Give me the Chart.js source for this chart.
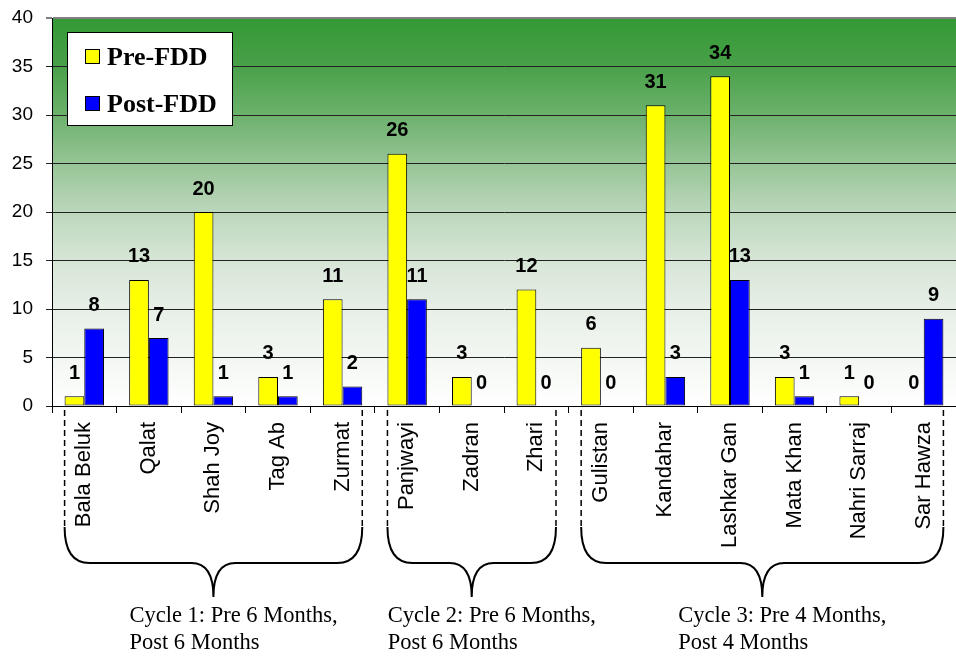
<!DOCTYPE html>
<html lang="en">
<head>
    <meta charset="UTF-8">
    <title>Pre-FDD vs Post-FDD</title>
    <script src="https://cdn.jsdelivr.net/npm/chart.js"></script>
    <style>
        html, body { margin: 0; padding: 0; background: #fff; }
        #wrap { width: 956px; height: 660px; position: relative; }
    </style>
</head>
<body>
    <div id="wrap"><canvas id="fddChart" width="956" height="660"></canvas></div>
    <script>
        // districts, in chart order
        const districts = ['Bala Beluk', 'Qalat', 'Shah Joy', 'Tag Ab', 'Zurmat',
            'Panjwayi', 'Zadran', 'Zhari',
            'Gulistan', 'Kandahar', 'Lashkar Gan', 'Mata Khan', 'Nahri Sarraj', 'Sar Hawza'];
        const preFdd  = [1, 13, 20, 3, 11, 26, 3, 12, 6, 31, 34, 3, 1, 0];
        const postFdd = [8, 7, 1, 1, 2, 11, 0, 0, 0, 3, 13, 1, 0, 9];
        const yTicks = [0, 5, 10, 15, 20, 25, 30, 35, 40];

        // cycles: first and last district index, caption lines
        const cycleStart = [0, 5, 8];
        const cycleEnd = [4, 7, 13];
        const cycleCaptions = [
            ['Cycle 1: Pre 6 Months,', 'Post 6 Months'],
            ['Cycle 2: Pre 6 Months,', 'Post 6 Months'],
            ['Cycle 3: Pre 4 Months,', 'Post 4 Months']
        ];

        const bgPlugin = {
            id: 'bg',
            beforeDraw(chart) {
                const { ctx, chartArea: a } = chart;
                const g = ctx.createLinearGradient(0, a.top, 0, a.bottom);
                g.addColorStop(0, '#339933');
                g.addColorStop(0.12, '#48a048');
                g.addColorStop(0.25, '#6cb16c');
                g.addColorStop(0.38, '#98c598');
                g.addColorStop(0.5, '#bcd7bc');
                g.addColorStop(0.62, '#d6e5d6');
                g.addColorStop(0.75, '#e7efe7');
                g.addColorStop(0.88, '#f3f7f3');
                g.addColorStop(1, '#ffffff');
                ctx.save();
                ctx.fillStyle = g;
                ctx.fillRect(a.left, a.top, a.right - a.left, a.bottom - a.top);
                ctx.restore();
            }
        };

        const valuePlugin = {
            id: 'values',
            afterDatasetsDraw(chart) {
                const ctx = chart.ctx;
                ctx.save();
                ctx.font = 'bold 20px "Liberation Sans", Arial, sans-serif';
                ctx.fillStyle = '#000';
                ctx.textAlign = 'center';
                ctx.textBaseline = 'middle';
                chart.data.datasets.forEach((ds, i) => {
                    chart.getDatasetMeta(i).data.forEach((bar, j) => {
                        ctx.fillText(String(ds.data[j]), bar.x, bar.y - 23);
                    });
                });
                ctx.restore();
            }
        };

        const legendPlugin = {
            id: 'boxLegend',
            afterDraw(chart) {
                const ctx = chart.ctx;
                const a = chart.chartArea;
                const x = a.left + 15, y = a.top + 14;
                ctx.save();
                ctx.fillStyle = '#fff';
                ctx.fillRect(x, y, 165, 93);
                ctx.strokeStyle = '#000';
                ctx.lineWidth = 1;
                ctx.strokeRect(x + 0.5, y + 0.5, 165, 93);
                ctx.font = 'bold 26px "Liberation Serif", "Times New Roman", serif';
                ctx.textBaseline = 'alphabetic';
                chart.data.datasets.forEach((ds, i) => {
                    const rowY = y + 17 + i * 47;
                    ctx.fillStyle = ds.backgroundColor;
                    ctx.fillRect(x + 18, rowY, 14, 14);
                    ctx.strokeRect(x + 18.5, rowY + 0.5, 14, 14);
                    ctx.fillStyle = '#000';
                    ctx.fillText(ds.label, x + 40, rowY + 16);
                });
                ctx.restore();
            }
        };

        const bracePlugin = {
            id: 'braces',
            afterDraw(chart) {
                const ctx = chart.ctx;
                const pre = chart.getDatasetMeta(0).data;
                const post = chart.getDatasetMeta(1).data;
                const axisY = chart.chartArea.bottom;
                const yEnd = 527, yFlat = 563, yTip = 597, r = 25;
                ctx.save();
                ctx.strokeStyle = '#000';
                cycleStart.forEach((s, k) => {
                    const x0 = pre[s].x - pre[s].width / 2;
                    const e = post[cycleEnd[k]];
                    const x1 = e.x + e.width / 2;
                    const cx = (x0 + x1) / 2;
                    // dashed side lines
                    ctx.lineWidth = 1.5;
                    ctx.setLineDash([6, 4]);
                    ctx.beginPath();
                    ctx.moveTo(x0, axisY + 4); ctx.lineTo(x0, yEnd);
                    ctx.moveTo(x1, axisY + 4); ctx.lineTo(x1, yEnd);
                    ctx.stroke();
                    // curly brace
                    ctx.setLineDash([]);
                    ctx.lineWidth = 2;
                    ctx.beginPath();
                    ctx.moveTo(x0, yEnd);
                    ctx.quadraticCurveTo(x0, yFlat, x0 + r, yFlat);
                    ctx.lineTo(cx - 22, yFlat);
                    ctx.quadraticCurveTo(cx, yFlat, cx, yTip);
                    ctx.quadraticCurveTo(cx, yFlat, cx + 22, yFlat);
                    ctx.lineTo(x1 - r, yFlat);
                    ctx.quadraticCurveTo(x1, yFlat, x1, yEnd);
                    ctx.stroke();
                    // caption
                    ctx.font = '22.5px "Liberation Serif", "Times New Roman", serif';
                    ctx.fillStyle = '#000';
                    ctx.textAlign = 'left';
                    ctx.textBaseline = 'alphabetic';
                    cycleCaptions[k].forEach((line, n) => {
                        ctx.fillText(line, cx - 84, yTip + 25 + n * 27);
                    });
                });
                ctx.restore();
            }
        };

        new Chart(document.getElementById('fddChart').getContext('2d'), {
            type: 'bar',
            data: {
                labels: districts,
                datasets: [{
                    label: 'Pre-FDD',
                    data: preFdd,
                    backgroundColor: '#ffff00',
                    borderColor: '#000',
                    borderWidth: 1,
                    borderSkipped: false
                }, {
                    label: 'Post-FDD',
                    data: postFdd,
                    backgroundColor: '#0000ff',
                    borderColor: '#000',
                    borderWidth: 1,
                    borderSkipped: false
                }]
            },
            options: {
                responsive: false,
                animation: false,
                layout: { padding: { top: 18, right: 0, left: 0, bottom: 0 } },
                datasets: { bar: { categoryPercentage: 0.61, barPercentage: 1.0 } },
                plugins: {
                    legend: { display: false },
                    tooltip: { enabled: false }
                },
                scales: {
                    x: {
                        offset: true,
                        grid: { offset: true, drawOnChartArea: false, color: '#000', tickLength: 7 },
                        border: { color: '#000', width: 1 },
                        ticks: {
                            color: '#000',
                            font: { family: '"Liberation Sans", Arial, sans-serif', size: 22 },
                            maxRotation: 90,
                            minRotation: 90,
                            padding: 9,
                            autoSkip: false
                        },
                        afterFit(scale) {
                            scale.height = 254;
                            scale.paddingLeft = 0;
                            scale.paddingRight = 0;
                        }
                    },
                    y: {
                        min: 0,
                        max: 40,
                        afterBuildTicks(scale) { scale.ticks = yTicks.map(v => ({ value: v })); },
                        grid: {
                            color: c => c.tick && c.tick.value === 40 ? '#808080' : '#222',
                            lineWidth: c => c.tick && c.tick.value === 40 ? 2 : 1,
                            tickLength: 6
                        },
                        border: { color: '#000', width: 1 },
                        ticks: {
                            color: '#000',
                            font: { family: '"Liberation Sans", Arial, sans-serif', size: 19 },
                            padding: 13
                        },
                        afterFit(scale) {
                            scale.width = 52;
                            scale.paddingTop = 0;
                            scale.paddingBottom = 0;
                        }
                    }
                }
            },
            plugins: [bgPlugin, valuePlugin, legendPlugin, bracePlugin]
        });
    </script>
</body>
</html>
